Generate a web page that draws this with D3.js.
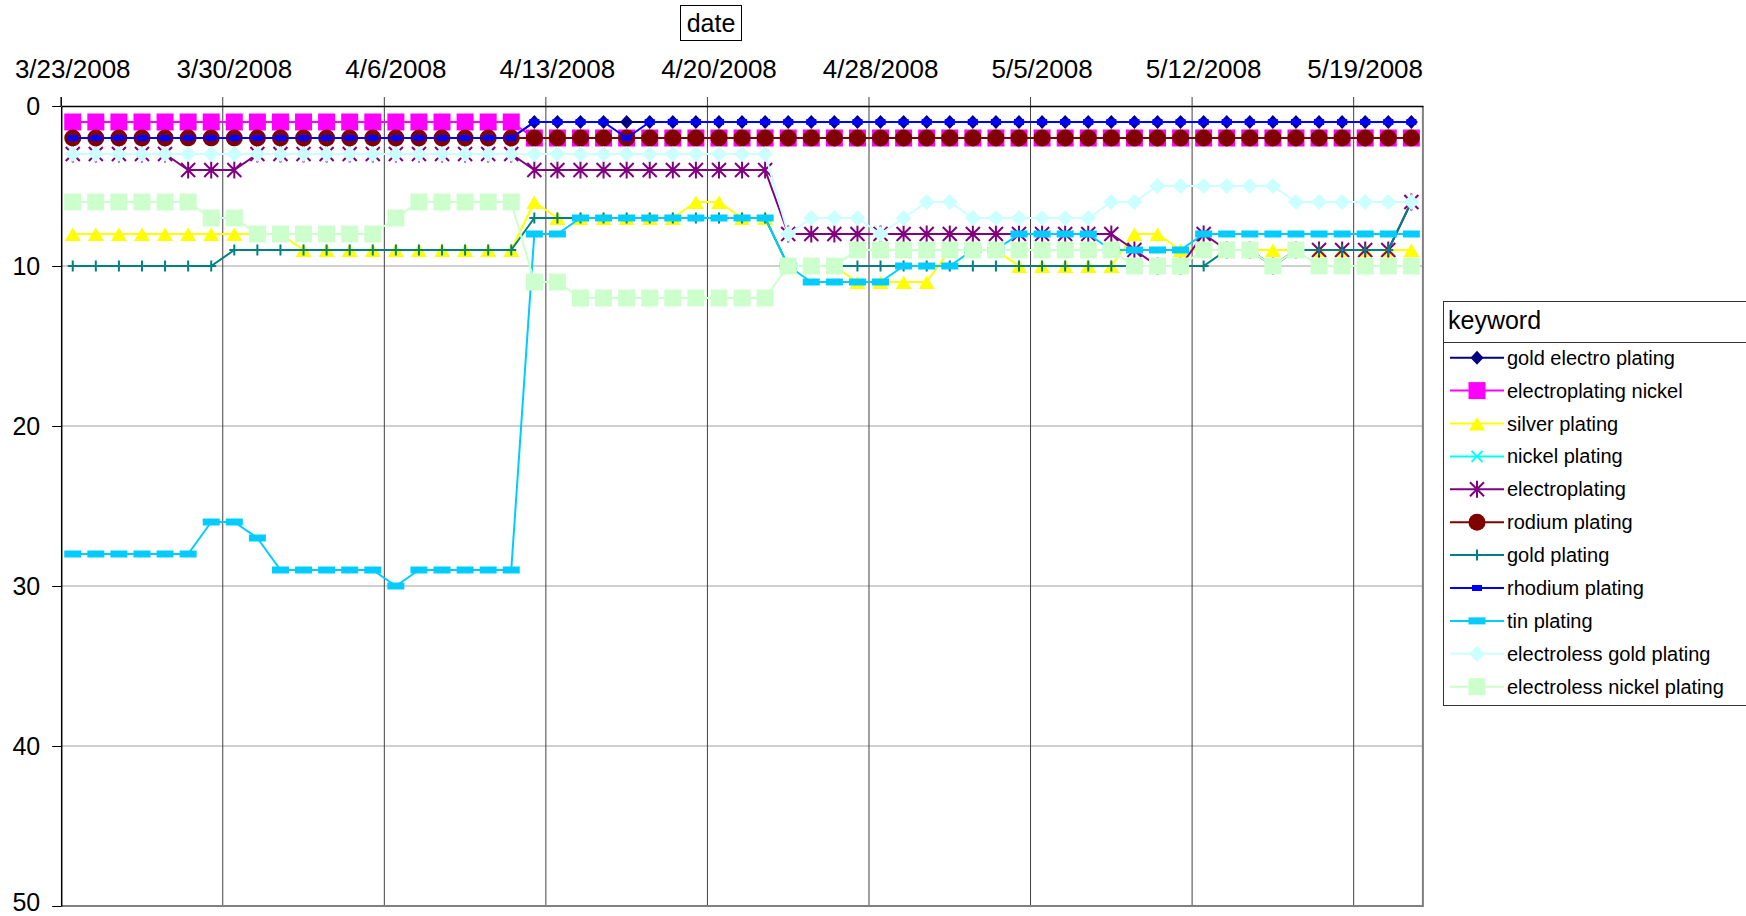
<!DOCTYPE html>
<html lang="en">
<head>
    <meta charset="UTF-8">
    <title>Keyword rank by date</title>
    <script src="https://cdn.jsdelivr.net/npm/d3@7"></script>
    <style>
        body { margin: 0; background: #fff; }
        svg { display: block; font-family: "Liberation Sans", Arial, sans-serif; }
    </style>
</head>
<body>
<div id="chart"></div>
<script>
    // categories (one date is missing between 4/20 and 4/28 in the source sheet)
    const dates = [
        "3/23/2008","3/24/2008","3/25/2008","3/26/2008","3/27/2008","3/28/2008","3/29/2008","3/30/2008","3/31/2008","4/1/2008",
        "4/2/2008","4/3/2008","4/4/2008","4/5/2008","4/6/2008","4/7/2008","4/8/2008","4/9/2008","4/10/2008","4/11/2008",
        "4/12/2008","4/13/2008","4/14/2008","4/15/2008","4/16/2008","4/17/2008","4/18/2008","4/19/2008","4/20/2008","4/21/2008",
        "4/22/2008","4/23/2008","4/24/2008","4/26/2008","4/27/2008","4/28/2008","4/29/2008","4/30/2008","5/1/2008","5/2/2008",
        "5/3/2008","5/4/2008","5/5/2008","5/6/2008","5/7/2008","5/8/2008","5/9/2008","5/10/2008","5/11/2008","5/12/2008",
        "5/13/2008","5/14/2008","5/15/2008","5/16/2008","5/17/2008","5/18/2008","5/19/2008","5/20/2008","5/21/2008"
    ];
    const dateLabels = ["3/23/2008","3/30/2008","4/6/2008","4/13/2008","4/20/2008","4/28/2008","5/5/2008","5/12/2008","5/19/2008"];
    const rankTicks = [0, 10, 20, 30, 40, 50];

    const keywords = ["gold electro plating","electroplating nickel","silver plating","nickel plating","electroplating",
        "rodium plating","gold plating","rhodium plating","tin plating","electroless gold plating","electroless nickel plating"];

    const goldElectroPlating = [
        2,2,2,2,2,2,2,2,2,2, 2,2,2,2,2,2,2,2,2,2, 1,1,1,1,1,1,1,1,1,1,
        1,1,1,1,1,1,1,1,1,1, 1,1,1,1,1,1,1,1,1,1, 1,1,1,1,1,1,1,1,1];
    const electroplatingNickel = [
        1,1,1,1,1,1,1,1,1,1, 1,1,1,1,1,1,1,1,1,1, 2,2,2,2,2,2,2,2,2,2,
        2,2,2,2,2,2,2,2,2,2, 2,2,2,2,2,2,2,2,2,2, 2,2,2,2,2,2,2,2,2];
    const silverPlating = [
        8,8,8,8,8,8,8,8,8,8, 9,9,9,9,9,9,9,9,9,9, 6,7,7,7,7,7,7,6,6,7,
        7,10,10,10,11,11,11,11,9,9, 9,10,10,10,10,10,8,8,9,9, 9,9,9,9,9,9,9,9,9];
    const nickelPlating = [
        2,2,2,2,2,2,2,2,2,2, 2,2,2,2,2,2,2,2,2,2, 2,2,2,2,2,2,2,2,2,2,
        2,2,2,2,2,2,2,2,2,2, 2,2,2,2,2,2,2,2,2,2, 2,2,2,2,2,2,2,2,2];
    const electroplating = [
        3,3,3,3,3,4,4,4,3,3, 3,3,3,3,3,3,3,3,3,3, 4,4,4,4,4,4,4,4,4,4,
        4,8,8,8,8,8,8,8,8,8, 8,8,8,8,8,8,9,10,10,8, 9,9,10,9,9,9,9,9,6];
    const rodiumPlating = [
        2,2,2,2,2,2,2,2,2,2, 2,2,2,2,2,2,2,2,2,2, 2,2,2,2,2,2,2,2,2,2,
        2,2,2,2,2,2,2,2,2,2, 2,2,2,2,2,2,2,2,2,2, 2,2,2,2,2,2,2,2,2];
    const goldPlating = [
        10,10,10,10,10,10,10,9,9,9, 9,9,9,9,9,9,9,9,9,9, 7,7,7,7,7,7,7,7,7,7,
        7,10,10,10,10,10,10,10,10,10, 10,10,10,10,10,10,10,10,10,10, 9,9,10,9,9,9,9,9,6];
    const rhodiumPlating = [
        2,2,2,2,2,2,2,2,2,2, 2,2,2,2,2,2,2,2,2,2, 1,1,1,1,2,1,1,1,1,1,
        1,1,1,1,1,1,1,1,1,1, 1,1,1,1,1,1,1,1,1,1, 1,1,1,1,1,1,1,1,1];
    const tinPlating = [
        28,28,28,28,28,28,26,26,27,29, 29,29,29,29,30,29,29,29,29,29, 8,8,7,7,7,7,7,7,7,7,
        7,10,11,11,11,11,10,10,10,9, 9,8,8,8,8,9,9,9,9,8, 8,8,8,8,8,8,8,8,8];
    const electrolessGoldPlating = [
        3,3,3,3,3,3,3,3,3,3, 3,3,3,3,3,3,3,3,3,3, 3,3,3,3,3,3,3,3,3,3,
        3,8,7,7,7,8,7,6,6,7, 7,7,7,7,7,6,6,5,5,5, 5,5,5,6,6,6,6,6,6];
    const electrolessNickelPlating = [
        6,6,6,6,6,6,7,7,8,8, 8,8,8,8,7,6,6,6,6,6, 11,11,12,12,12,12,12,12,12,12,
        12,10,10,10,9,9,9,9,9,9, 9,9,9,9,9,9,10,10,10,9, 9,9,10,9,10,10,10,10,10];

    const seriesValues = [goldElectroPlating, electroplatingNickel, silverPlating, nickelPlating, electroplating,
        rodiumPlating, goldPlating, rhodiumPlating, tinPlating, electrolessGoldPlating, electrolessNickelPlating];

    // marker shapes, Excel 2003 style
    const markerPaths = {
        diamond: "M0,-7L6.5,0L0,7L-6.5,0Z",
        square: "M-8.5,-8.5h17v17h-17Z",
        triangle: "M0,-6.5L8,7L-8,7Z",
        x: "M-5.5,-5.5L5.5,5.5M-5.5,5.5L5.5,-5.5",
        star: "M-7,-7L7,7M-7,7L7,-7M0,-8.5L0,8.5",
        circle: "M-8.5,0a8.5,8.5 0 1,0 17,0a8.5,8.5 0 1,0 -17,0Z",
        plus: "M-5,0H5M0,-5.5V5.5",
        smallRect: "M-5,-3h10v6h-10Z",
        wideRect: "M-8.5,-3.5h17v7h-17Z",
        bigDiamond: "M0,-8L8,0L0,8L-8,0Z"
    };
    const seriesStyle = [
        { color: "#000080", marker: "diamond", fill: true },
        { color: "#FF00FF", marker: "square", fill: true },
        { color: "#FFFF00", marker: "triangle", fill: true },
        { color: "#00FFFF", marker: "x", fill: false },
        { color: "#800080", marker: "star", fill: false },
        { color: "#800000", marker: "circle", fill: true },
        { color: "#008080", marker: "plus", fill: false },
        { color: "#0000FF", marker: "smallRect", fill: true },
        { color: "#00CCFF", marker: "wideRect", fill: true },
        { color: "#CCFFFF", marker: "bigDiamond", fill: true },
        { color: "#CCFFCC", marker: "square", fill: true }
    ];

    const width = 1746;
    const height = 916;
    const plot = { left: 61.2, right: 1422.9, top: 106, bottom: 906 };

    const svg = d3.select("#chart").append("svg")
        .attr("width", width)
        .attr("height", height);

    const x = d3.scaleBand().domain(dates).range([plot.left, plot.right]).padding(0);
    const y = d3.scaleLinear().domain([0, 50]).range([plot.top, plot.bottom]);
    const cx = d => x(d) + x.bandwidth() / 2;

    // horizontal gridlines
    svg.append("g").selectAll("line")
        .data(rankTicks.filter(t => t > 0 && t < 50))
        .join("line")
        .attr("x1", plot.left).attr("x2", plot.right)
        .attr("y1", d => y(d)).attr("y2", d => y(d))
        .attr("stroke", "#a0a0a0").attr("stroke-width", 1);

    // vertical gridlines at every 7th category boundary
    svg.append("g").selectAll("line")
        .data(dateLabels.slice(1))
        .join("line")
        .attr("x1", d => x(d)).attr("x2", d => x(d))
        .attr("y1", plot.top - 9).attr("y2", plot.bottom)
        .attr("stroke", "#404040").attr("stroke-width", 1);

    // plot border (right and bottom)
    svg.append("path")
        .attr("d", `M${plot.right},${plot.top}V${plot.bottom}H${plot.left}`)
        .attr("fill", "none").attr("stroke", "#808080").attr("stroke-width", 2);

    // top date axis
    const xAxis = d3.axisTop(x).tickValues(dateLabels).tickSize(0).tickPadding(28);
    const gx = svg.append("g").attr("transform", `translate(0,${plot.top})`).call(xAxis);
    gx.select(".domain").attr("stroke", "#000").attr("stroke-width", 1.5);
    gx.selectAll("text").attr("font-size", 26).attr("fill", "#000").style("font-family", "Liberation Sans, Arial, sans-serif");

    // left rank axis
    const yAxis = d3.axisLeft(y).tickValues(rankTicks).tickSize(9).tickSizeOuter(0).tickPadding(12);
    const gy = svg.append("g").attr("transform", `translate(${plot.left},0)`).call(yAxis);
    gy.select(".domain").attr("stroke", "#000").attr("stroke-width", 1.5);
    gy.selectAll(".tick line").attr("stroke", "#000");
    gy.selectAll("text").attr("font-size", 25).attr("fill", "#000").style("font-family", "Liberation Sans, Arial, sans-serif");
    // the last label sits on the page edge; lift it a little so it stays whole
    gy.selectAll(".tick text").filter(d => d === 50).attr("dy", "0.18em");
    svg.append("line")
        .attr("x1", plot.left).attr("x2", plot.left)
        .attr("y1", plot.top - 9).attr("y2", plot.top)
        .attr("stroke", "#000").attr("stroke-width", 1.5);

    // series: line then markers, in sheet order
    const line = d3.line().x((v, i) => cx(dates[i])).y(v => y(v));
    seriesValues.forEach((values, s) => {
        const st = seriesStyle[s];
        const g = svg.append("g");
        g.append("path")
            .attr("d", line(values))
            .attr("fill", "none")
            .attr("stroke", st.color)
            .attr("stroke-width", 2)
            .attr("stroke-linejoin", "round");
        g.selectAll("path.m")
            .data(values)
            .join("path")
            .attr("class", "m")
            .attr("d", markerPaths[st.marker])
            .attr("transform", (v, i) => `translate(${cx(dates[i])},${y(v)})`)
            .attr("fill", st.fill ? st.color : "none")
            .attr("stroke", st.fill ? "none" : st.color)
            .attr("stroke-width", 2);
    });

    // title box
    svg.append("rect")
        .attr("x", 680.5).attr("y", 5.5).attr("width", 61).attr("height", 35)
        .attr("fill", "#fff").attr("stroke", "#000").attr("stroke-width", 1);
    svg.append("text")
        .attr("x", 711).attr("y", 31.5)
        .attr("text-anchor", "middle")
        .attr("font-size", 25)
        .text("date");

    // legend
    const legend = svg.append("g");
    legend.append("rect")
        .attr("x", 1443.5).attr("y", 301.5).attr("width", 400).attr("height", 404)
        .attr("fill", "#fff").attr("stroke", "#333").attr("stroke-width", 1);
    legend.append("line")
        .attr("x1", 1443.5).attr("x2", width).attr("y1", 342.5).attr("y2", 342.5)
        .attr("stroke", "#333").attr("stroke-width", 1);
    legend.append("text")
        .attr("x", 1448).attr("y", 329)
        .attr("font-size", 25)
        .text("keyword");

    const item = legend.selectAll("g.item")
        .data(keywords)
        .join("g")
        .attr("class", "item")
        .attr("transform", (d, i) => `translate(0,${357.7 + i * 32.9})`);
    item.append("line")
        .attr("x1", 1450).attr("x2", 1504)
        .attr("stroke", (d, i) => seriesStyle[i].color)
        .attr("stroke-width", 2);
    item.append("path")
        .attr("d", (d, i) => markerPaths[seriesStyle[i].marker])
        .attr("transform", "translate(1477,0)")
        .attr("fill", (d, i) => seriesStyle[i].fill ? seriesStyle[i].color : "none")
        .attr("stroke", (d, i) => seriesStyle[i].fill ? "none" : seriesStyle[i].color)
        .attr("stroke-width", 2);
    item.append("text")
        .attr("x", 1507).attr("y", 7)
        .attr("font-size", 20)
        .text(d => d);
</script>
</body>
</html>
